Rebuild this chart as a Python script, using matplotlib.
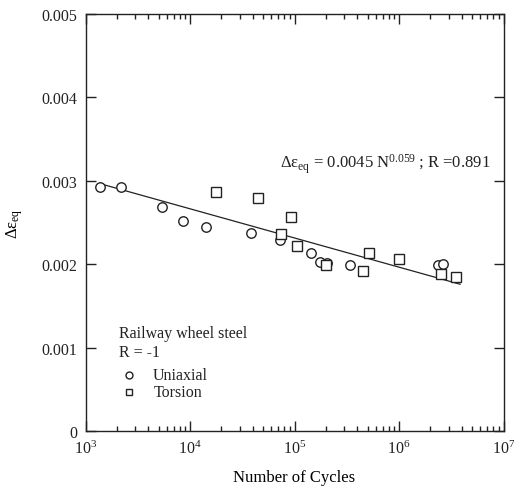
import matplotlib
matplotlib.use("Agg")
import matplotlib.pyplot as plt
from matplotlib.ticker import LogLocator, FixedLocator, NullFormatter

plt.rcParams['font.family'] = ['Liberation Serif', 'DejaVu Serif']
plt.rcParams['mathtext.fontset'] = 'custom'
plt.rcParams['mathtext.rm'] = 'Liberation Serif'
plt.rcParams['mathtext.it'] = 'Liberation Serif'

# Uniaxial data
uni_N = [1377, 2170, 5360, 8510, 14100, 38300, 72600, 143000, 175000, 203000, 340000, 2380000, 2650000]
uni_de = [0.00293, 0.00293, 0.00269, 0.00252, 0.00245, 0.00237, 0.00229, 0.00213, 0.00203, 0.00201, 0.00199, 0.00199, 0.00200]

# Torsion data
tor_N = [17750, 45100, 74300, 92000, 106000, 200000, 450000, 520000, 1000000, 2520000, 3490000]
tor_de = [0.00286, 0.00279, 0.00236, 0.00256, 0.00222, 0.00199, 0.00192, 0.00213, 0.00206, 0.00188, 0.00185]

# Fit line endpoints
fit_N = [1430, 3840000]
fit_de = [0.00296, 0.00176]

fig = plt.figure(figsize=(5.14, 4.89), dpi=100)
ax = fig.add_axes([85.5/514, (489-432)/489, 418/514, 417/489])

ax.plot(fit_N, fit_de, color='#222222', lw=0.9, zorder=2)
ax.plot(uni_N, uni_de, 'o', ms=6.8, mfc='white', mec='#222222', mew=1.0, ls='none', zorder=3)
ax.plot(tor_N, tor_de, 's', ms=6.8, mfc='white', mec='#222222', mew=1.0, ls='none', zorder=3)

ax.set_xscale('log')
ax.set_xlim(1e3, 1e7)
ax.set_ylim(0, 0.005)
ax.yaxis.set_major_locator(FixedLocator([0, 0.001, 0.002, 0.003, 0.004, 0.005]))
ax.set_yticklabels(['0', '0.001', '0.002', '0.003', '0.004', '0.005'])
ax.xaxis.set_major_locator(FixedLocator([1e3, 1e4, 1e5, 1e6, 1e7]))
ax.set_xticklabels([r'$10^3$', r'$10^4$', r'$10^5$', r'$10^6$', r'$10^7$'])
ax.xaxis.set_minor_locator(LogLocator(base=10, subs=range(2, 10)))
ax.xaxis.set_minor_formatter(NullFormatter())

ax.tick_params(which='both', direction='in', top=True, right=True, labelsize=11.5, colors='#222222')
ax.tick_params(which='major', length=7, width=1.0, pad=6)
ax.tick_params(which='minor', length=3.5, width=1.0)
for s in ax.spines.values():
    s.set_linewidth(1.0)
    s.set_color('#222222')

ax.set_xlabel('Number of Cycles', fontsize=12, labelpad=9)
ax.set_ylabel(r'$\Delta\epsilon_{\rm eq}$', fontsize=12, labelpad=12)

ax.text(0.466, 0.632, r'$\Delta\epsilon_{\rm eq}$ = 0.0045 N$^{0.059}$ ; R =0.891',
        transform=ax.transAxes, fontsize=12, color='#222222')

ax.text(0.08, 0.225, 'Railway wheel steel', transform=ax.transAxes, fontsize=11.5, color='#222222')
ax.text(0.08, 0.18, 'R = -1', transform=ax.transAxes, fontsize=11.5, color='#222222')
ax.plot([0.105], [0.135], 'o', ms=5, mfc='white', mec='#222222', transform=ax.transAxes, clip_on=False)
ax.text(0.162, 0.135, 'Uniaxial', transform=ax.transAxes, fontsize=11.5, va='center', color='#222222')
ax.plot([0.105], [0.094], 's', ms=5, mfc='white', mec='#222222', transform=ax.transAxes, clip_on=False)
ax.text(0.162, 0.094, 'Torsion', transform=ax.transAxes, fontsize=11.5, va='center', color='#222222')

fig.savefig('out.png', dpi=100)
